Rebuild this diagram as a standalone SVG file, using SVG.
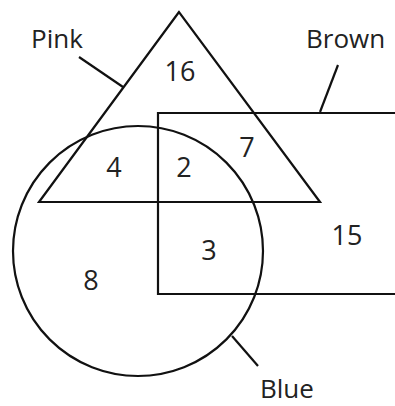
<svg xmlns="http://www.w3.org/2000/svg" width="395" height="406" viewBox="0 0 395 406">
<style>
.s{fill:none;stroke:#111;stroke-width:2.2}
.t{font-family:"Open Sans","Liberation Sans",Arial,sans-serif;font-size:26px;fill:#222}
.n{font-family:"Open Sans","Liberation Sans",Arial,sans-serif;font-size:27px;fill:#222;text-anchor:middle}
</style>
<rect width="395" height="406" fill="#fff"/>
<g id="pink"><polygon class="s" points="179,12 39,202 320,202"/><text class="t" x="31" y="48">Pink</text></g>
<g id="brown"><polyline class="s" points="396,113 158,113 158,294 396,294"/><text class="t" x="306" y="48">Brown</text></g>
<g id="blue"><circle class="s" cx="138" cy="251" r="125"/><text class="t" x="260" y="398">Blue</text></g>
<g id="connectors">
<line class="s" x1="79" y1="57" x2="123" y2="87"/>
<line class="s" x1="338" y1="65" x2="320" y2="112"/>
<line class="s" x1="232" y1="336" x2="258" y2="366"/>
</g>
<g id="values">
<text class="n" x="180" y="81">16</text>
<text class="n" x="114" y="177">4</text>
<text class="n" x="184" y="177">2</text>
<text class="n" x="247" y="157">7</text>
<text class="n" x="91" y="290">8</text>
<text class="n" x="209" y="260">3</text>
<text class="n" x="347" y="245">15</text>
</g>
</svg>
